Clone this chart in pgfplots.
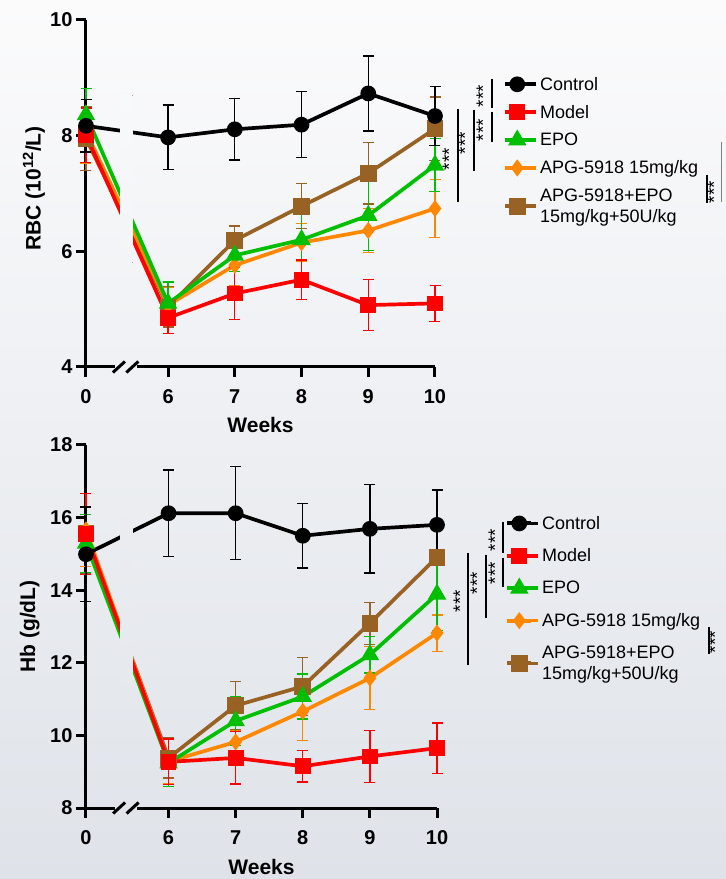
\documentclass[border=0pt]{standalone}
\usepackage{fontspec}
\setmainfont{Liberation Sans}
\usepackage{pgfplots}
\usepackage{pgfplotstable}
\pgfplotsset{compat=1.18}

\definecolor{cred}{RGB}{255,0,0}
\definecolor{cgreen}{RGB}{0,190,0}
\definecolor{corange}{RGB}{255,136,0}
\definecolor{cbrown}{RGB}{152,98,36}
\definecolor{bgT}{RGB}{251,251,252}
\definecolor{bgB}{RGB}{223,227,233}
\definecolor{covA}{RGB}{248,249,250}
\definecolor{covB}{RGB}{243,244,246}
\definecolor{covC}{RGB}{235,237,241}
\definecolor{covD}{RGB}{229,232,237}

% week 0 is plotted at x = 4.77 (broken axis)
\pgfplotstableread{
x y e
4.77 8.17 0.45
6 7.97 0.56
7 8.11 0.53
8 8.19 0.57
9 8.73 0.65
10 8.34 0.51
}\rbcControl
\pgfplotstableread{
x y e
4.77 8.01 0.47
6 4.85 0.27
7 5.27 0.45
8 5.51 0.34
9 5.07 0.44
10 5.10 0.31
}\rbcModel
\pgfplotstableread{
x y e
4.77 8.36 0.46
6 5.10 0.37
7 5.93 0.28
8 6.20 0.57
9 6.62 0.60
10 7.49 0.46
}\rbcEPO
\pgfplotstableread{
x y e
4.77 8.07 0.55
6 5.07 0.30
7 5.76 0.35
8 6.15 0.33
9 6.36 0.38
10 6.74 0.50
}\rbcAPG
\pgfplotstableread{
x y e
4.77 7.95 0.55
6 5.04 0.35
7 6.19 0.25
8 6.78 0.39
9 7.35 0.53
10 8.12 0.55
}\rbcCombo

\pgfplotstableread{
x y e
4.77 14.99 1.30
6 16.12 1.19
7 16.12 1.28
8 15.50 0.89
9 15.69 1.22
10 15.80 0.96
}\hbControl
\pgfplotstableread{
x y e
4.77 15.55 1.12
6 9.27 0.63
7 9.38 0.72
8 9.15 0.43
9 9.42 0.71
10 9.65 0.69
}\hbModel
\pgfplotstableread{
x y e
4.77 15.29 0.80
6 9.24 0.65
7 10.40 0.67
8 11.07 0.62
9 12.22 0.50
10 13.89 1.00
}\hbEPO
\pgfplotstableread{
x y e
4.77 15.66 1.00
6 9.28 0.60
7 9.82 0.30
8 10.66 0.80
9 11.58 0.87
10 12.82 0.50
}\hbAPG
\pgfplotstableread{
x y e
4.77 15.57 1.10
6 9.38 0.55
7 10.82 0.67
8 11.35 0.80
9 13.09 0.58
10 14.91 1.00
}\hbCombo

\pgfplotsset{
  myaxis/.style={
    scale only axis, anchor=south west,
    axis lines=left, axis line style={line width=3pt,-},
    x axis line style={draw=none},
    tick align=outside, major tick length=10pt,
    tick style={line width=3pt,black},
    xmin=4.77, xmax=10,
    xtick={4.77,6,7,8,9,10}, xticklabels={0,6,7,8,9,10},
    ticklabel style={font=\fontsize{20}{24}\selectfont\bfseries},
    xticklabel style={yshift=-9pt},
    /pgf/number format/assume math mode=true,
    label style={font=\fontsize{21}{25}\selectfont\bfseries},
    clip=false,
    reverse legend,
    legend cell align=left,
    legend style={draw=none, fill=none, anchor=north west, inner sep=0pt,
      font=\fontsize{18}{21}\selectfont,
      cells={align=left}},
    legend image code/.code={\path (0pt,0pt) -- (31pt,0pt); \draw[#1,line width=4pt] (0pt,0pt) -- (24pt,0pt); \draw[mark repeat=2,mark phase=2,#1,draw=none] plot coordinates {(0pt,0pt) (12pt,0pt) (24pt,0pt)};},
  },
  ser/.style={line width=3.7pt, color=#1, mark options={solid,fill=#1,draw=#1},
    error bars/.cd, y dir=both, y explicit,
    error bar style={line width=1.3pt,#1},
    error mark options={rotate=90,line width=1.3pt,mark size=5.5pt,#1}},
}

\begin{document}
\begin{tikzpicture}
\useasboundingbox (0pt,0pt) rectangle (726pt,879pt);
\shade[top color=bgT, bottom color=bgB] (0pt,0pt) rectangle (726pt,879pt);

% ---------- RBC ----------
\begin{axis}[myaxis, at={(86pt,512pt)}, width=349pt, height=347pt,
  ymin=4, ymax=10, ytick={4,6,8,10},
  xlabel={Weeks}, ylabel={RBC (10\textsuperscript{12}/L)},
  xlabel style={at={(axis description cs:0.5,0)}, anchor=center, yshift=-58pt},
  ylabel style={at={(axis description cs:-0.149,0.515)}, anchor=center},
  legend style={at={(1.195,0.842)}, row sep=9.5pt}]
\addplot[mark=square*, mark size=6.5pt, ser=cbrown] table[x=x,y=y,y error=e] {\rbcCombo};
\addlegendentry{APG-5918+EPO\\15mg/kg+50U/kg}
\addplot[mark=diamond*, mark size=5.5pt, ser=corange] table[x=x,y=y,y error=e] {\rbcAPG};
\addlegendentry{APG-5918 15mg/kg}
\addplot[mark=triangle*, mark size=7pt, ser=cgreen] table[x=x,y=y,y error=e] {\rbcEPO};
\addlegendentry{EPO}
\addplot[mark=square*, mark size=6pt, ser=cred] table[x=x,y=y,y error=e] {\rbcModel};
\addlegendentry{Model}
\addplot[mark=*, mark size=6pt, ser=black] table[x=x,y=y,y error=e] {\rbcControl};
\addlegendentry{Control}
\fill[top color=covA, bottom color=covB, draw=none] (axis cs:5.28,5.8) rectangle (axis cs:5.47,8.7);
\draw[line width=3pt] (axis cs:4.77,4) -- (axis cs:5.203,4);
\draw[line width=3pt] (axis cs:5.531,4) -- (axis cs:10,4);
\draw[line width=3pt] ([xshift=-6pt,yshift=-5.5pt]axis cs:5.263,4) -- ([xshift=6pt,yshift=5.5pt]axis cs:5.263,4);
\draw[line width=3pt] ([xshift=-6pt,yshift=-5.5pt]axis cs:5.464,4) -- ([xshift=6pt,yshift=5.5pt]axis cs:5.464,4);
\end{axis}

% ---------- Hb ----------
\begin{axis}[myaxis, at={(86pt,71pt)}, width=351pt, height=363pt,
  ymin=8, ymax=18, ytick={8,10,12,14,16,18},
  xlabel={Weeks}, ylabel={Hb (g/dL)},
  xlabel style={at={(axis description cs:0.5,0)}, anchor=center, yshift=-59pt},
  ylabel style={at={(axis description cs:-0.16,0.5)}, anchor=center},
  legend style={at={(1.194,0.81)}, row sep=14pt}]
\addplot[mark=square*, mark size=6.5pt, ser=cbrown] table[x=x,y=y,y error=e] {\hbCombo};
\addlegendentry{APG-5918+EPO\\15mg/kg+50U/kg}
\addplot[mark=diamond*, mark size=5.5pt, ser=corange] table[x=x,y=y,y error=e] {\hbAPG};
\addlegendentry{APG-5918 15mg/kg}
\addplot[mark=triangle*, mark size=7pt, ser=cgreen] table[x=x,y=y,y error=e] {\hbEPO};
\addlegendentry{EPO}
\addplot[mark=square*, mark size=6pt, ser=cred] table[x=x,y=y,y error=e] {\hbModel};
\addlegendentry{Model}
\addplot[mark=*, mark size=6pt, ser=black] table[x=x,y=y,y error=e] {\hbControl};
\addlegendentry{Control}
\fill[top color=covC, bottom color=covD, draw=none] (axis cs:5.28,10.8) rectangle (axis cs:5.47,16.6);
\draw[line width=3pt] (axis cs:4.77,8) -- (axis cs:5.203,8);
\draw[line width=3pt] (axis cs:5.531,8) -- (axis cs:10,8);
\draw[line width=3pt] ([xshift=-6pt,yshift=-5.5pt]axis cs:5.263,8) -- ([xshift=6pt,yshift=5.5pt]axis cs:5.263,8);
\draw[line width=3pt] ([xshift=-6pt,yshift=-5.5pt]axis cs:5.464,8) -- ([xshift=6pt,yshift=5.5pt]axis cs:5.464,8);
\end{axis}

% ---------- significance marks ----------
\begin{scope}[line width=2.6pt]
\tikzset{st/.style={rotate=90, font=\fontsize{19}{19}\selectfont, inner sep=0pt}}
% RBC
\draw (492pt,800pt) -- (492pt,771pt); \node[st] at (483pt,783pt) {***};
\draw (492pt,767pt) -- (492pt,737pt); \node[st] at (483pt,749pt) {***};
\draw (474pt,769pt) -- (474pt,708pt); \node[st] at (465pt,736pt) {***};
\draw (458pt,770pt) -- (458pt,677pt); \node[st] at (449pt,720pt) {***};
\draw (707pt,704pt) -- (707pt,676pt); \node[st] at (714pt,687pt) {***};
\draw[line width=1pt, gray] (721pt,737pt) -- (721pt,677pt);
% Hb
\draw (503pt,357pt) -- (503pt,326pt); \node[st] at (495pt,339pt) {***};
\draw (503pt,321pt) -- (503pt,292pt); \node[st] at (495pt,306pt) {***};
\draw (486pt,324pt) -- (486pt,261pt); \node[st] at (477pt,296pt) {***};
\draw (468pt,326pt) -- (468pt,214pt); \node[st] at (460pt,278pt) {***};
\draw (709pt,252pt) -- (709pt,225pt); \node[st] at (715pt,237pt) {***};
\end{scope}
\end{tikzpicture}
\end{document}
